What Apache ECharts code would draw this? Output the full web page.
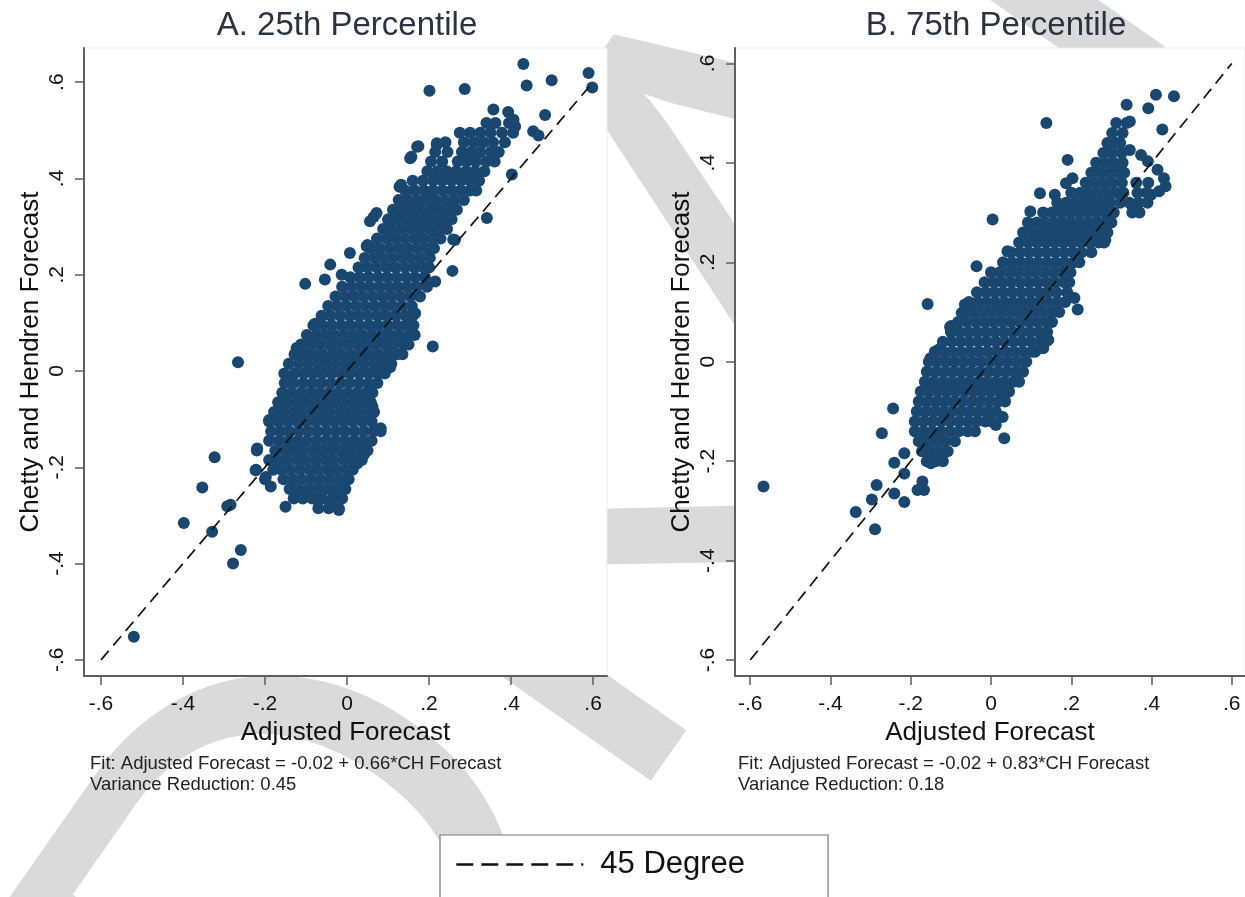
<!DOCTYPE html>
<html>
<head>
<meta charset="utf-8">
<script src="https://cdn.jsdelivr.net/npm/echarts@6/dist/echarts.min.js"></script>
<style>
html,body{margin:0;padding:0;background:#fff;}
#chart{width:1245px;height:897px;}
</style>
</head>
<body>
<div id="chart"></div>
<script>
// ---------- tick values / labels ----------
const tickValues = [-0.6, -0.4, -0.2, 0, 0.2, 0.4, 0.6];
const tickLabels = ['-.6', '-.4', '-.2', '0', '.2', '.4', '.6'];
const diagEnds = [-0.6, 0.6];

const panelTitles = ['A. 25th Percentile', 'B. 75th Percentile'];
const fitNotes = [
  'Fit: Adjusted Forecast = -0.02 + 0.66*CH Forecast\nVariance Reduction: 0.45',
  'Fit: Adjusted Forecast = -0.02 + 0.83*CH Forecast\nVariance Reduction: 0.18'
];
const legendLabel = '45 Degree';
const watermarkText = 'DRAFT';

// ---------- Panel A (25th percentile): dense rows [y, [x...]] ----------
const rowsA = [
  [-0.285, [-0.07, -0.045, -0.02]],
  [-0.265, [-0.13, -0.108, -0.085, -0.06, -0.035, -0.012]],
  [-0.245, [-0.14, -0.118, -0.095, -0.072, -0.05, -0.027, -0.004]],
  [-0.225, [-0.2, -0.155, -0.132, -0.11, -0.087, -0.064, -0.041, -0.018, 0.004]],
  [-0.205, [-0.222, -0.18, -0.16, -0.138, -0.115, -0.092, -0.07, -0.047, -0.025, -0.002, 0.014]],
  [-0.185, [-0.19, -0.168, -0.145, -0.122, -0.1, -0.077, -0.054, -0.032, -0.009, 0.014, 0.036]],
  [-0.165, [-0.22, -0.175, -0.152, -0.13, -0.107, -0.084, -0.062, -0.039, -0.016, 0.006, 0.029, 0.05]],
  [-0.145, [-0.19, -0.166, -0.143, -0.12, -0.098, -0.075, -0.052, -0.03, -0.007, 0.016, 0.038, 0.06]],
  [-0.125, [-0.185, -0.162, -0.14, -0.117, -0.094, -0.072, -0.049, -0.026, -0.004, 0.019, 0.042, 0.065, 0.082]],
  [-0.105, [-0.19, -0.168, -0.145, -0.122, -0.1, -0.077, -0.054, -0.032, -0.009, 0.014, 0.037, 0.06]],
  [-0.085, [-0.178, -0.155, -0.132, -0.11, -0.087, -0.064, -0.042, -0.019, 0.004, 0.026, 0.049, 0.066]],
  [-0.065, [-0.168, -0.145, -0.122, -0.1, -0.077, -0.054, -0.032, -0.009, 0.014, 0.036, 0.058]],
  [-0.045, [-0.158, -0.135, -0.112, -0.09, -0.067, -0.044, -0.022, 0.001, 0.024, 0.046, 0.062]],
  [-0.025, [-0.152, -0.13, -0.107, -0.084, -0.062, -0.039, -0.016, 0.006, 0.029, 0.052, 0.074]],
  [-0.005, [-0.153, -0.128, -0.105, -0.082, -0.06, -0.037, -0.014, 0.008, 0.031, 0.054, 0.076, 0.092]],
  [0.015, [-0.142, -0.118, -0.095, -0.072, -0.05, -0.027, -0.004, 0.018, 0.041, 0.064, 0.086, 0.108]],
  [0.035, [-0.128, -0.104, -0.082, -0.059, -0.036, -0.014, 0.009, 0.032, 0.054, 0.077, 0.1, 0.122, 0.135]],
  [0.055, [-0.112, -0.09, -0.067, -0.044, -0.022, 0.001, 0.024, 0.046, 0.069, 0.092, 0.114, 0.137, 0.15]],
  [0.075, [-0.098, -0.075, -0.052, -0.03, -0.007, 0.016, 0.038, 0.061, 0.084, 0.106, 0.129, 0.152, 0.165]],
  [0.095, [-0.082, -0.06, -0.037, -0.014, 0.008, 0.031, 0.054, 0.076, 0.099, 0.122, 0.144, 0.162]],
  [0.115, [-0.062, -0.04, -0.017, 0.006, 0.028, 0.051, 0.074, 0.096, 0.119, 0.142, 0.16]],
  [0.135, [-0.046, -0.024, -0.001, 0.022, 0.044, 0.067, 0.09, 0.112, 0.135, 0.158]],
  [0.155, [-0.028, -0.005, 0.018, 0.04, 0.063, 0.086, 0.108, 0.131, 0.154, 0.178]],
  [0.175, [-0.012, 0.011, 0.034, 0.056, 0.079, 0.102, 0.124, 0.147, 0.17, 0.195]],
  [0.195, [0.008, 0.03, 0.053, 0.076, 0.098, 0.121, 0.144, 0.166, 0.19]],
  [0.215, [0.028, 0.05, 0.073, 0.096, 0.118, 0.141, 0.164, 0.186, 0.2]],
  [0.235, [0.043, 0.066, 0.088, 0.111, 0.134, 0.156, 0.179, 0.202]],
  [0.255, [0.058, 0.08, 0.103, 0.126, 0.148, 0.171, 0.194, 0.212]],
  [0.275, [0.073, 0.096, 0.118, 0.141, 0.164, 0.186, 0.209, 0.228]],
  [0.295, [0.088, 0.11, 0.133, 0.156, 0.178, 0.201, 0.224, 0.244]],
  [0.315, [0.1, 0.123, 0.146, 0.168, 0.191, 0.214, 0.236, 0.255]],
  [0.335, [0.112, 0.135, 0.158, 0.18, 0.203, 0.226, 0.248, 0.268]],
  [0.355, [0.126, 0.148, 0.171, 0.194, 0.216, 0.239, 0.262, 0.285]],
  [0.375, [0.142, 0.165, 0.188, 0.21, 0.233, 0.256, 0.278, 0.3, 0.315]],
  [0.395, [0.16, 0.185, 0.21, 0.232, 0.255, 0.278, 0.3, 0.322]],
  [0.415, [0.196, 0.22, 0.243, 0.266, 0.29, 0.312, 0.335]],
  [0.435, [0.205, 0.232, 0.27, 0.292, 0.315, 0.34, 0.36]],
  [0.455, [0.215, 0.245, 0.28, 0.302, 0.325, 0.35, 0.37]],
  [0.475, [0.24, 0.285, 0.31, 0.333, 0.356, 0.385]],
  [0.495, [0.275, 0.3, 0.325, 0.35, 0.378, 0.405]],
  [0.515, [0.34, 0.362, 0.395]]
];
const outliersA = [
  [0.430, 0.638], [0.589, 0.619], [0.598, 0.589], [0.438, 0.593], [0.499, 0.604],
  [0.201, 0.582], [0.287, 0.586], [0.483, 0.532], [0.357, 0.543], [0.393, 0.538],
  [0.406, 0.522], [0.41, 0.508], [0.454, 0.498], [0.467, 0.489], [0.402, 0.408],
  [0.341, 0.318], [0.259, 0.273], [0.257, 0.208], [0.215, 0.186], [0.209, 0.051],
  [0.174, 0.467], [0.154, 0.442], [0.219, 0.470], [0.132, 0.387], [0.072, 0.328],
  [0.056, 0.311], [0.048, 0.259], [0.007, 0.245], [-0.041, 0.221], [-0.013, 0.2],
  [-0.054, 0.19], [-0.102, 0.181], [-0.078, 0.098], [-0.123, 0.048],
  [-0.266, 0.018], [0.082, -0.119], [0.105, 0.008], [-0.323, -0.179], [-0.353, -0.242],
  [-0.398, -0.316], [-0.329, -0.334], [-0.292, -0.281], [-0.284, -0.278], [-0.259, -0.372],
  [-0.278, -0.4], [-0.520, -0.552], [-0.150, -0.282], [-0.020, -0.289], [-0.190, -0.102],
  [-0.219, -0.161], [-0.223, -0.206], [-0.198, -0.22], [-0.186, -0.24], [-0.129, -0.254],
  [-0.072, -0.268], [-0.04, -0.272], [0.025, -0.192], [0.001, -0.181], [0.041, -0.174],
  [0.062, -0.074], [-0.146, -0.022], [0.166, 0.120], [0.263, 0.272], [0.05, 0.262],
  [0.065, 0.32], [0.128, 0.383], [0.171, 0.466], [0.157, 0.445], [0.219, 0.473]
];

// ---------- Panel B (75th percentile) ----------
const rowsB = [
  [-0.2, [-0.16, -0.138, -0.12]],
  [-0.18, [-0.172, -0.15, -0.128, -0.108]],
  [-0.16, [-0.18, -0.158, -0.136, -0.114, -0.09]],
  [-0.14, [-0.19, -0.168, -0.146, -0.124, -0.102, -0.08, -0.058, -0.04]],
  [-0.12, [-0.19, -0.168, -0.146, -0.124, -0.102, -0.08, -0.058, -0.036, -0.014, 0.002]],
  [-0.10, [-0.185, -0.163, -0.141, -0.119, -0.097, -0.075, -0.053, -0.031, -0.009, 0.012]],
  [-0.08, [-0.18, -0.158, -0.136, -0.114, -0.092, -0.07, -0.048, -0.026, -0.004, 0.018, 0.035]],
  [-0.06, [-0.175, -0.153, -0.131, -0.109, -0.087, -0.065, -0.043, -0.021, 0.001, 0.023, 0.045]],
  [-0.04, [-0.165, -0.143, -0.121, -0.099, -0.077, -0.055, -0.033, -0.011, 0.011, 0.033, 0.055, 0.07]],
  [-0.02, [-0.16, -0.138, -0.116, -0.094, -0.072, -0.05, -0.028, -0.006, 0.016, 0.038, 0.06, 0.08]],
  [0.00, [-0.155, -0.133, -0.111, -0.089, -0.067, -0.045, -0.023, -0.001, 0.021, 0.043, 0.065, 0.088]],
  [0.02, [-0.14, -0.118, -0.096, -0.074, -0.052, -0.03, -0.008, 0.014, 0.036, 0.058, 0.08, 0.102, 0.11]],
  [0.04, [-0.12, -0.098, -0.076, -0.054, -0.032, -0.01, 0.012, 0.034, 0.056, 0.078, 0.1, 0.122]],
  [0.06, [-0.1, -0.078, -0.056, -0.034, -0.012, 0.01, 0.032, 0.054, 0.076, 0.098, 0.12, 0.14]],
  [0.08, [-0.082, -0.06, -0.038, -0.016, 0.006, 0.028, 0.05, 0.072, 0.094, 0.116, 0.138, 0.152]],
  [0.10, [-0.068, -0.046, -0.024, -0.002, 0.02, 0.042, 0.064, 0.086, 0.108, 0.13, 0.152, 0.17]],
  [0.12, [-0.055, -0.033, -0.011, 0.011, 0.033, 0.055, 0.077, 0.099, 0.121, 0.143, 0.165, 0.185]],
  [0.14, [-0.035, -0.013, 0.009, 0.031, 0.053, 0.075, 0.097, 0.119, 0.141, 0.163, 0.19]],
  [0.16, [-0.016, 0.006, 0.028, 0.05, 0.072, 0.094, 0.116, 0.138, 0.16, 0.182, 0.195]],
  [0.18, [0.0, 0.022, 0.044, 0.066, 0.088, 0.11, 0.132, 0.154, 0.176, 0.198]],
  [0.20, [0.03, 0.052, 0.074, 0.096, 0.118, 0.14, 0.162, 0.184, 0.206, 0.22]],
  [0.22, [0.05, 0.072, 0.094, 0.116, 0.138, 0.16, 0.182, 0.204, 0.226, 0.25]],
  [0.24, [0.07, 0.092, 0.114, 0.136, 0.158, 0.18, 0.202, 0.224, 0.246, 0.268, 0.282]],
  [0.26, [0.08, 0.102, 0.124, 0.146, 0.168, 0.19, 0.212, 0.234, 0.256, 0.278, 0.29]],
  [0.28, [0.092, 0.114, 0.136, 0.158, 0.18, 0.202, 0.224, 0.246, 0.268, 0.29, 0.3]],
  [0.30, [0.13, 0.152, 0.174, 0.196, 0.218, 0.24, 0.262, 0.284, 0.306, 0.352, 0.37]],
  [0.32, [0.165, 0.187, 0.209, 0.231, 0.253, 0.275, 0.297, 0.322, 0.345, 0.368, 0.39]],
  [0.34, [0.2, 0.222, 0.244, 0.266, 0.288, 0.31, 0.33, 0.365, 0.388]],
  [0.36, [0.236, 0.258, 0.28, 0.302, 0.326, 0.362, 0.392]],
  [0.38, [0.25, 0.272, 0.294, 0.316, 0.332]],
  [0.40, [0.262, 0.284, 0.306, 0.328]],
  [0.42, [0.28, 0.302, 0.326]],
  [0.44, [0.29, 0.312, 0.322]],
  [0.46, [0.302, 0.328]],
  [0.48, [0.312, 0.338]]
];
const outliersB = [
  [0.411, 0.537], [0.456, 0.534], [0.338, 0.517], [0.392, 0.510], [0.138, 0.480],
  [0.346, 0.483], [0.427, 0.467], [0.346, 0.426], [0.191, 0.406], [0.374, 0.416],
  [0.391, 0.403], [0.415, 0.386], [0.431, 0.369], [0.435, 0.353], [0.419, 0.343],
  [0.203, 0.369], [0.187, 0.359], [0.122, 0.339], [0.159, 0.336], [0.098, 0.302],
  [0.004, 0.286], [0.041, 0.222], [-0.036, 0.192], [-0.158, 0.116], [-0.065, 0.115],
  [-0.073, 0.098], [-0.099, 0.072], [-0.131, 0.024], [-0.151, 0.007], [0.208, 0.128],
  [0.216, 0.105], [0.138, 0.041], [0.285, 0.245], [0.35, 0.316], [0.366, 0.302],
  [0.399, 0.336],
  [-0.567, -0.251], [-0.244, -0.094], [-0.272, -0.144], [-0.102, 0.07], [-0.337, -0.302],
  [-0.289, -0.337], [-0.285, -0.248], [-0.297, -0.277], [-0.241, -0.265], [-0.216, -0.282],
  [-0.241, -0.203], [-0.216, -0.184], [-0.216, -0.225], [-0.183, -0.258], [-0.171, -0.241],
  [-0.167, -0.258], [-0.15, -0.204], [-0.158, -0.181], [-0.118, -0.184], [-0.187, -0.141],
  [0.033, -0.154], [0.012, -0.127], [0.029, -0.111], [0.033, -0.074], [0.13, 0.027],
  [0.143, 0.044]
];

function toPoints(rows, outliers) {
  const pts = [];
  rows.forEach(function (r) { r[1].forEach(function (x) { pts.push([x, r[0]]); }); });
  return pts.concat(outliers);
}
const pointsA = toPoints(rowsA, outliersA);
const pointsB = toPoints(rowsB, outliersB);

// ---------- styling ----------
const FONT = 'Liberation Sans, Arial, Helvetica, sans-serif';
const NAVY = '#1a476f';
const AXIS_GRAY = '#5e5e5e';
const ZL = 1; // chart layer above the watermark layer

function tickFmt(v) {
  for (let i = 0; i < tickValues.length; i++) {
    if (Math.abs(tickValues[i] - v) < 1e-6) return tickLabels[i];
  }
  return '';
}

function xAxisFor(gi, min, max) {
  return {
    type: 'value', gridIndex: gi, min: min, max: max, zlevel: ZL,
    name: 'Adjusted Forecast', nameLocation: 'middle', nameGap: 44,
    nameTextStyle: { fontSize: 26, color: '#111', fontFamily: FONT },
    axisLine: { show: true, onZero: false, lineStyle: { color: AXIS_GRAY, width: 2 } },
    axisTick: { show: true, length: 9, customValues: tickValues, lineStyle: { color: AXIS_GRAY, width: 1.5 } },
    axisLabel: { customValues: tickValues, formatter: tickFmt, fontSize: 21, color: '#111', fontFamily: FONT, margin: 18 },
    splitLine: { show: false }
  };
}
function yAxisFor(gi, min, max) {
  return {
    type: 'value', gridIndex: gi, min: min, max: max, zlevel: ZL,
    name: 'Chetty and Hendren Forecast', nameLocation: 'middle', nameGap: 40,
    nameTextStyle: { fontSize: 26, color: '#111', fontFamily: FONT },
    axisLine: { show: true, onZero: false, lineStyle: { color: AXIS_GRAY, width: 2 } },
    axisTick: { show: true, length: 9, customValues: tickValues, lineStyle: { color: AXIS_GRAY, width: 1.5 } },
    axisLabel: { customValues: tickValues, formatter: tickFmt, fontSize: 21, color: '#111', fontFamily: FONT, rotate: 90, margin: 16 },
    splitLine: { show: false }
  };
}

function gridLinesSeries(gi) {
  return {
    type: 'scatter', xAxisIndex: gi, yAxisIndex: gi, data: [], z: 0, zlevel: ZL, silent: true,
    markLine: {
      silent: true, symbol: ['none', 'none'], animation: false, z: 0,
      label: { show: false },
      lineStyle: { color: '#ebebeb', type: 'solid', width: 1.2 },
      data: tickValues.map(function (v) { return { yAxis: v }; })
    }
  };
}
function scatterSeries(gi, name, pts) {
  return {
    type: 'scatter', name: name, xAxisIndex: gi, yAxisIndex: gi, data: pts, z: 3, zlevel: ZL,
    symbol: 'circle', symbolSize: 12,
    itemStyle: { color: NAVY, opacity: 1 }
  };
}
function diagSeries(gi) {
  return {
    type: 'line', name: legendLabel, xAxisIndex: gi, yAxisIndex: gi, z: 4, zlevel: ZL,
    data: [[diagEnds[0], diagEnds[0]], [diagEnds[1], diagEnds[1]]],
    symbol: 'none', showSymbol: false, silent: true,
    lineStyle: { color: '#111', width: 1.7, type: [12, 7] }
  };
}

const chart = echarts.init(document.getElementById('chart'), null, { renderer: 'canvas' });
const titleStyle = { fontSize: 33, fontWeight: 'normal', color: '#2b3240', fontFamily: FONT };
const noteStyle = { fontSize: 18.5, lineHeight: 21.5, fontWeight: 'normal', color: '#222', fontFamily: FONT };
const option = {
  animation: false,
  backgroundColor: '#ffffff',
  textStyle: { fontFamily: FONT },
  title: [
    { text: panelTitles[0], left: 347, top: 9, padding: 0, textAlign: 'center', zlevel: ZL, textStyle: titleStyle },
    { text: panelTitles[1], left: 996, top: 9, padding: 0, textAlign: 'center', zlevel: ZL, textStyle: titleStyle },
    { text: fitNotes[0], left: 90, top: 753, padding: 0, zlevel: ZL, textStyle: noteStyle },
    { text: fitNotes[1], left: 738, top: 753, padding: 0, zlevel: ZL, textStyle: noteStyle }
  ],
  legend: {
    data: [legendLabel], left: 440, top: 835, orient: 'horizontal', zlevel: ZL,
    itemWidth: 127, itemHeight: 16,
    padding: [14, 83, 40, 15],
    borderColor: '#777', borderWidth: 1.2, backgroundColor: '#fff',
    itemStyle: { opacity: 0 },
    lineStyle: { type: [17, 8], width: 2.6, color: '#111' },
    textStyle: { fontSize: 31, color: '#111', fontFamily: FONT, padding: [0, 0, 0, 12] }
  },
  grid: [
    { left: 84, top: 48, width: 523, height: 628, show: true, zlevel: ZL, backgroundColor: '#ffffff', borderColor: '#ececec', borderWidth: 1 },
    { left: 735, top: 48, width: 521, height: 628, show: true, zlevel: ZL, backgroundColor: '#ffffff', borderColor: '#ececec', borderWidth: 1 }
  ],
  xAxis: [xAxisFor(0, -0.6415, 0.634), xAxisFor(1, -0.638, 0.633)],
  yAxis: [yAxisFor(0, -0.6336, 0.671), yAxisFor(1, -0.632, 0.631)],
  graphic: [
    { type: 'text', zlevel: 0, z: 0, silent: true, x: 760, y: 265, rotation: 55 * Math.PI / 180,
      style: { text: watermarkText, font: 'normal 640px Lato, sans-serif', fill: '#dadada', align: 'center', verticalAlign: 'middle' } }
  ],
  series: [
    gridLinesSeries(0), gridLinesSeries(1),
    scatterSeries(0, 'A', pointsA), scatterSeries(1, 'B', pointsB),
    diagSeries(0), diagSeries(1)
  ]
};
chart.setOption(option);
</script>
</body>
</html>
